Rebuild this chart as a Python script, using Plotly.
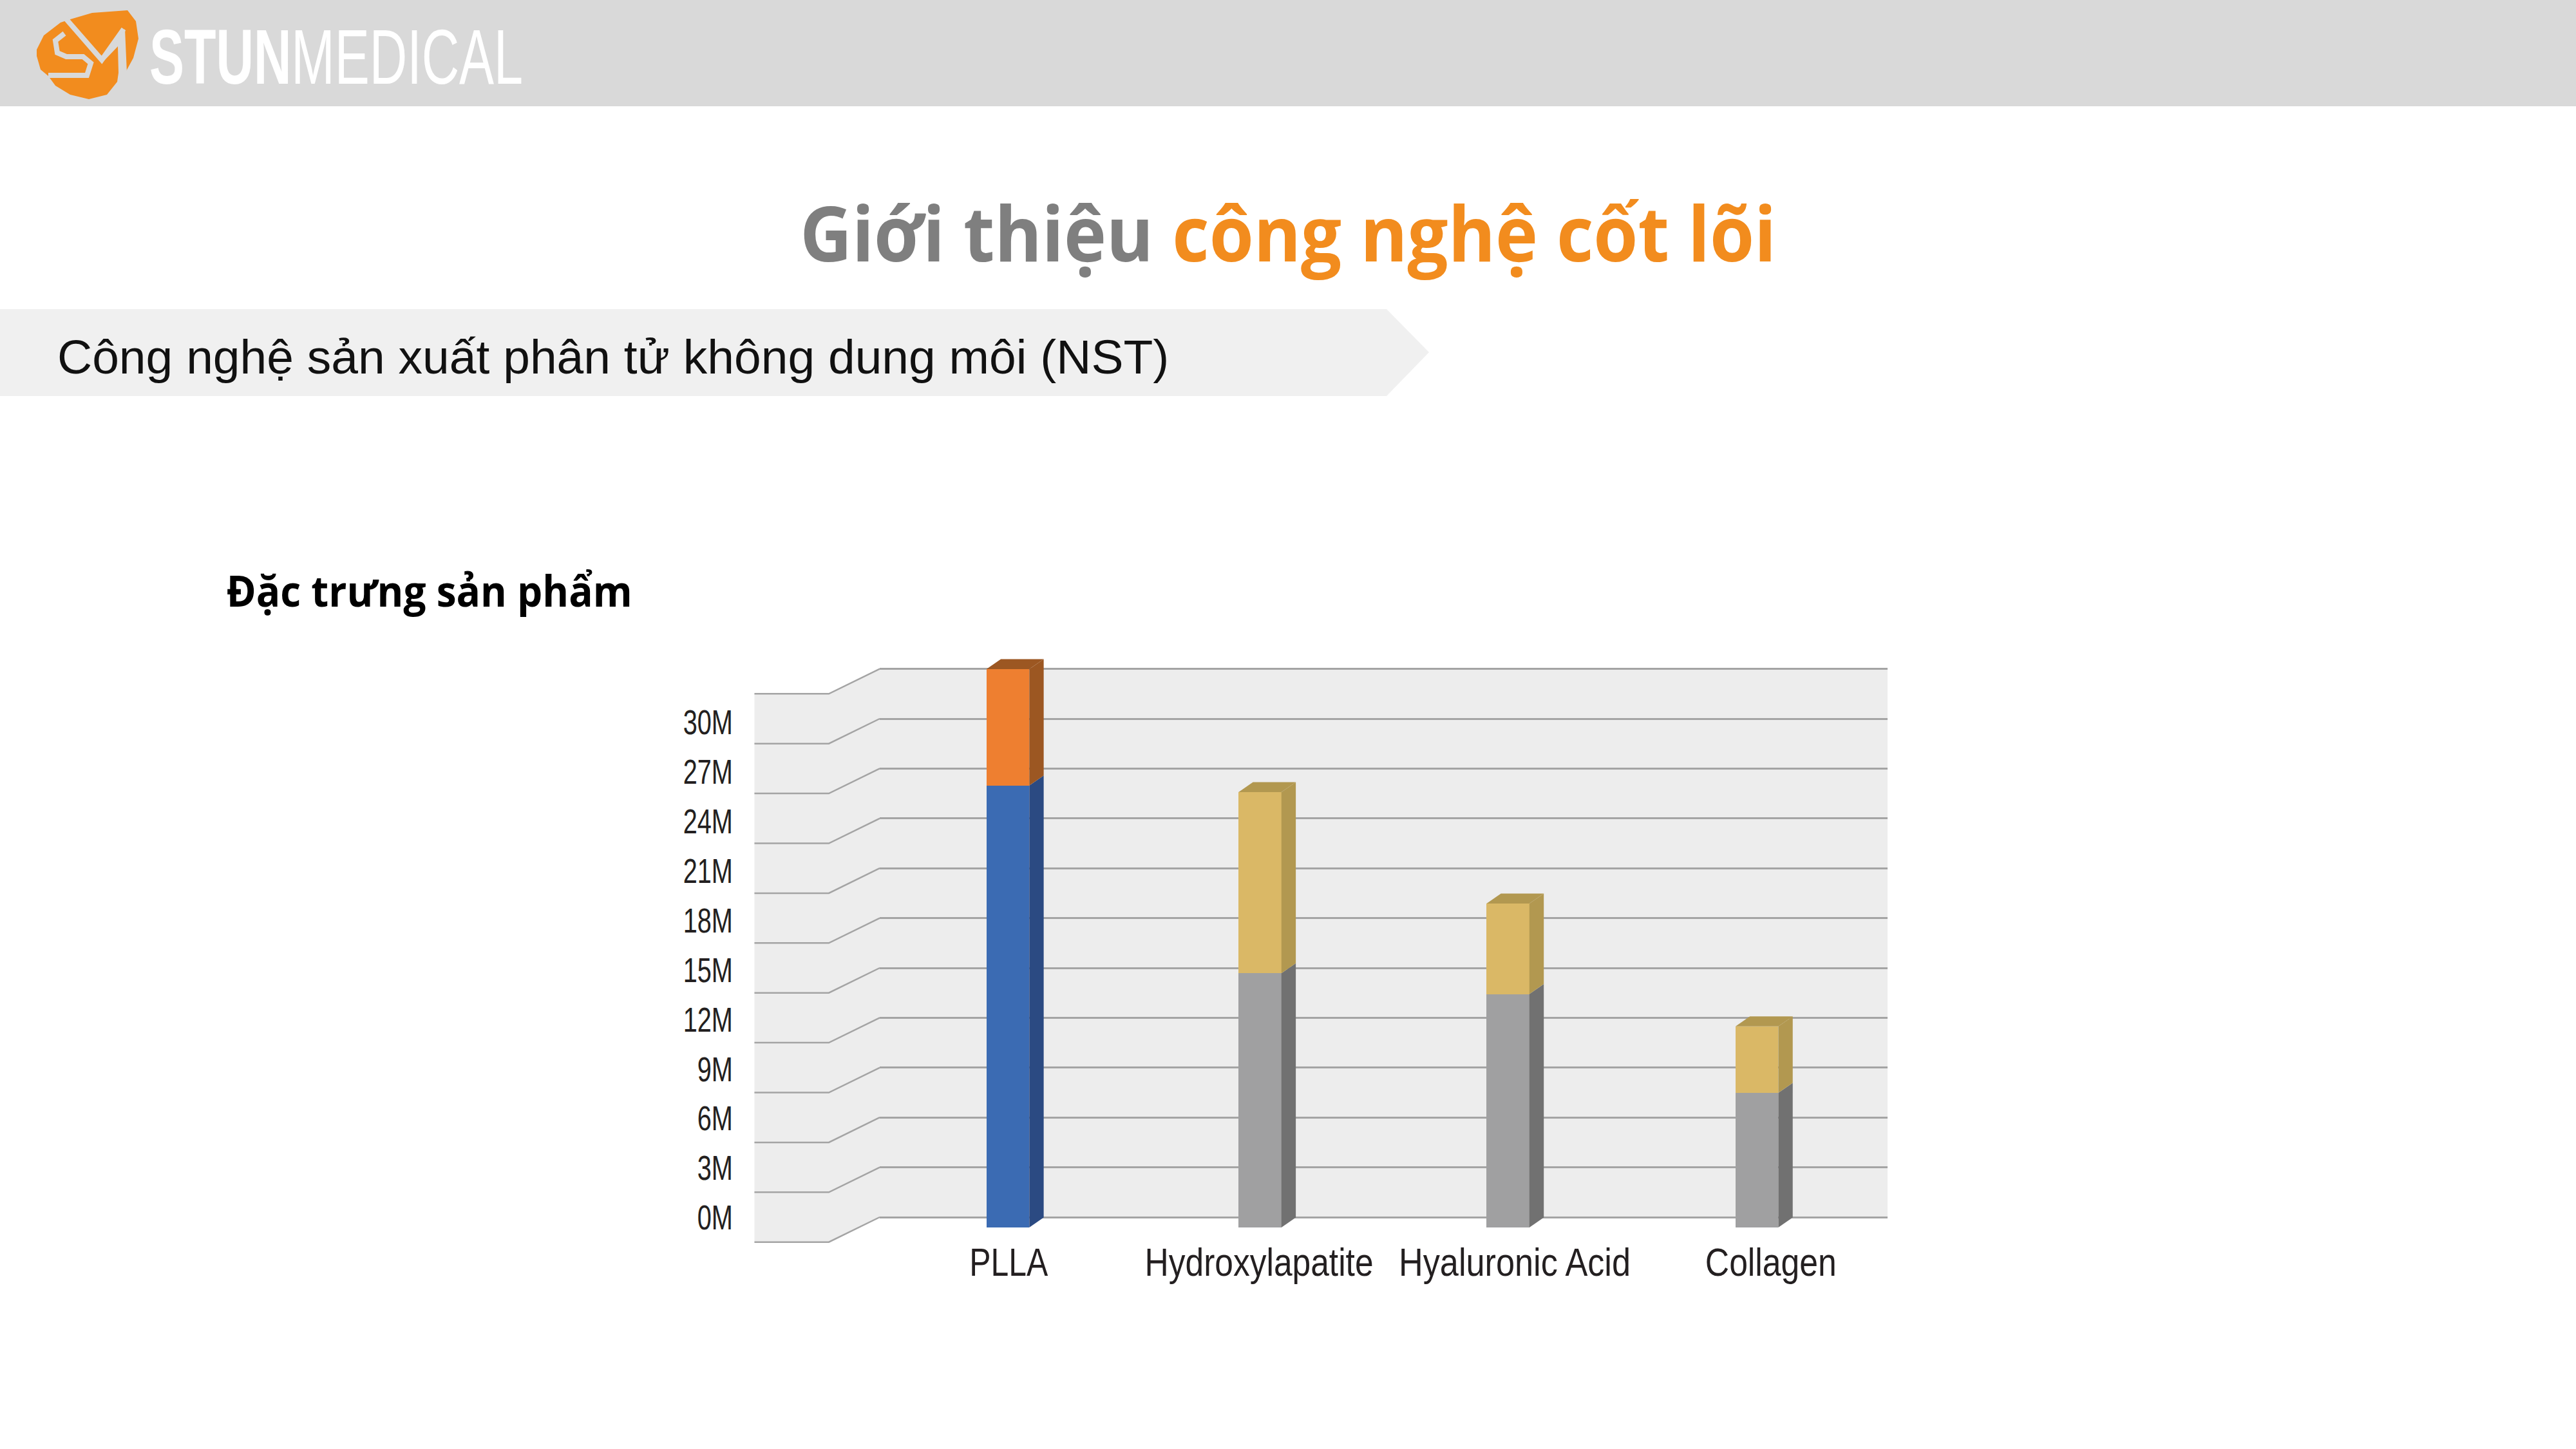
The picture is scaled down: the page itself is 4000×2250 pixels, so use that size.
import plotly.graph_objects as go

# ---------- data ----------
categories = ["PLLA", "Hydroxylapatite", "Hyaluronic Acid", "Collagen"]
lower_values = [26.6, 15.3, 14.05, 8.1]
upper_values = [7.0, 10.9, 5.45, 4.0]
lower_colors = ["#3b6bb3", "#a0a0a1", "#a0a0a1", "#a0a0a1"]
upper_colors = ["#ee7f30", "#dab866", "#dab866", "#dab866"]
lower_sides = ["#2b4a82", "#717171", "#717171", "#717171"]
upper_sides = ["#9c5722", "#b29850", "#b29850", "#b29850"]
grid_values = [0, 3, 6, 9, 12, 15, 18, 21, 24, 27, 30, 33]
tick_values = [0, 3, 6, 9, 12, 15, 18, 21, 24, 27, 30]
tick_labels = ["0M", "3M", "6M", "9M", "12M", "15M", "18M", "21M", "24M", "27M", "30M"]

# ---------- layout constants ----------
W, H = 4000, 2250
px = lambda v: v / W
py = lambda v: 1 - v / H
PX_PER_M = 25.8
PX_PER_SLOT = 387.7
FIRST_SLOT = 1565
bar_slots = [0, 1.0098, 2.003, 3.0]
label_slots = [0.003, 1.006, 2.03, 3.056]
BAR_W = 0.1715
DX = 22.4 / PX_PER_SLOT
DY = 15.5 / PX_PER_M
BASE_Y = 1906
WALL_Y = 1890
WALL_L, WALL_R = 1366, 2931
SIDE_L, SIDE_M = 1171.5, 1287
FRONT_DROP = 1.5
GRID = "#a4a4a4"
WALLC = "#ededed"
AXIS_FONT = dict(family="Liberation Sans", color="#231f20")

shapes = []
# header
shapes.append(dict(type="rect", xref="paper", yref="paper", x0=0, x1=1, y0=py(165), y1=1,
                   fillcolor="#d9d9d9", line_width=0, layer="below"))
# logo
pts = [(57,77),(68,55),(94,35),(109,30),(143,20),(198,16),(211,33),(215,60),(207,90),(195,112),
       (184,113),(182,127),(166,147),(138,154),(109,147),(86,133),(75,118),(63,108),(57,87)]
shapes.append(dict(type="path", xref="paper", yref="paper",
                   path="M " + " L ".join(f"{px(x):.5f} {py(y):.5f}" for x, y in pts) + " Z",
                   fillcolor="#f28c1e", line_width=0, layer="below"))
for stroke in ([(103,30),(158,93),(192,45)],
               [(100,52),(86,63),(89,82),(103,88),(129,88),(141,98),(135,117),(75,117)]):
    shapes.append(dict(type="path", xref="paper", yref="paper",
                       path="M " + " L ".join(f"{px(x):.5f} {py(y):.5f}" for x, y in stroke),
                       line=dict(color="#d9d9d9", width=8), layer="below"))
sliver = [(194,45),(197,113),(184,113),(183,72),(160,96)]
shapes.append(dict(type="path", xref="paper", yref="paper",
                   path="M " + " L ".join(f"{px(x):.5f} {py(y):.5f}" for x, y in sliver) + " Z",
                   fillcolor="#d9d9d9", line_width=0, layer="below"))
# ribbon
rib = [(0,480),(2153,480),(2219,547),(2153,615),(0,615)]
shapes.append(dict(type="path", xref="paper", yref="paper",
                   path="M " + " L ".join(f"{px(x):.5f} {py(y):.5f}" for x, y in rib) + " Z",
                   fillcolor="#f0f0f0", line_width=0, layer="below"))
# walls
top = grid_values[-1]
wall = [(SIDE_L, top-FRONT_DROP), (SIDE_M, top-FRONT_DROP), (WALL_L, top), (WALL_R, top),
        (WALL_R, 0), (WALL_L, 0), (SIDE_M, -FRONT_DROP), (SIDE_L, -FRONT_DROP)]
shapes.append(dict(type="path", xref="paper", yref="y",
                   path="M " + " L ".join(f"{px(x):.5f} {y:.4f}" for x, y in wall) + " Z",
                   fillcolor=WALLC, line_width=0, layer="below"))
for v in grid_values:
    line = [(SIDE_L, v-FRONT_DROP), (SIDE_M, v-FRONT_DROP), (WALL_L, v)]
    shapes.append(dict(type="path", xref="paper", yref="y",
                       path="M " + " L ".join(f"{px(x):.5f} {y:.4f}" for x, y in line),
                       line=dict(color=GRID, width=2.5), layer="below"))
# 3D faces of bars
def poly(p, color):
    return dict(type="path", xref="x2", yref="y2",
                path="M " + " L ".join(f"{x:.4f} {y:.4f}" for x, y in p) + " Z",
                fillcolor=color, line_width=0, layer="above")
for s, lo, up, sl, su in zip(bar_slots, lower_values, upper_values, lower_sides, upper_sides):
    l, r = s - BAR_W/2, s + BAR_W/2
    t = lo + up
    shapes.append(poly([(r,0),(r+DX,DY),(r+DX,lo+DY),(r,lo)], sl))
    shapes.append(poly([(r,lo),(r+DX,lo+DY),(r+DX,t+DY),(r,t)], su))
    shapes.append(poly([(l,t),(r,t),(r+DX,t+DY),(l+DX,t+DY)], su))

fig = go.Figure()
fig.add_bar(x=bar_slots, y=lower_values, width=BAR_W, marker=dict(color=lower_colors, line_width=0),
            xaxis="x2", yaxis="y2", name="Lower", hoverinfo="y")
fig.add_bar(x=bar_slots, y=upper_values, width=BAR_W, marker=dict(color=upper_colors, line_width=0),
            xaxis="x2", yaxis="y2", name="Upper", hoverinfo="y")

annotations = [
    dict(x=px(522), y=py(88), text="<b>STUN</b>MEDICAL", xanchor="center", yanchor="middle",
         font=dict(family="Liberation Sans", size=120, color="white")),
    dict(x=px(2000), y=py(360),
         text='<b><span style="color:#7f7f7f">Giới thiệu </span><span style="color:#f28c1e">công nghệ cốt lõi</span></b>',
         xanchor="center", yanchor="middle", font=dict(family="Open Sans", size=118)),
    dict(x=px(86.5), y=py(554), text="Công nghệ sản xuất phân tử không dung môi (NST)",
         xanchor="left", yanchor="middle", font=dict(family="Liberation Sans", size=75, color="#111111")),
    dict(x=px(666.5), y=py(916), text="<b>Đặc trưng sản phẩm</b>", xanchor="center", yanchor="middle",
         font=dict(family="Open Sans", size=66, color="#000000")),
]
for a in annotations:
    a.update(xref="paper", yref="paper", showarrow=False)

fig.update_layout(
    width=W, height=H, margin=dict(l=0, r=0, t=0, b=0), autosize=False,
    paper_bgcolor="white", plot_bgcolor="rgba(0,0,0,0)", showlegend=False, barmode="stack",
    shapes=shapes, annotations=annotations,
    xaxis=dict(domain=[px(WALL_L), px(WALL_R)], range=[0, 1], anchor="y", visible=False),
    yaxis=dict(domain=[0, 1], range=[-(H-WALL_Y)/PX_PER_M, WALL_Y/PX_PER_M], anchor="x",
               tickmode="array", tickvals=grid_values, showticklabels=False, ticks="",
               showgrid=True, gridcolor=GRID, gridwidth=2.5, zeroline=False, showline=False),
    xaxis2=dict(domain=[0, 1], range=[-FIRST_SLOT/PX_PER_SLOT, (W-FIRST_SLOT)/PX_PER_SLOT], anchor="y2",
                tickmode="array", tickvals=label_slots, ticktext=categories, ticks="", tickangle=0,
                tickfont=dict(size=62, **AXIS_FONT), showgrid=False, zeroline=False, showline=False,
                ticklabelstandoff=12),
    yaxis2=dict(domain=[py(BASE_Y), 1], range=[0, BASE_Y/PX_PER_M], anchor="x2", visible=False),
    yaxis3=dict(overlaying="y", anchor="free", position=px(1138), side="left",
                domain=[0, 1], range=[-(H-1890.7)/25.63, 1890.7/25.63],
                tickmode="array", tickvals=tick_values, ticktext=tick_labels, ticks="",
                tickfont=dict(size=53, **AXIS_FONT), showgrid=False, zeroline=False, showline=False),
)
fig.add_scatter(x=[None], y=[None], xaxis="x", yaxis="y3", showlegend=False, hoverinfo="skip")

# page margin off; the reference's narrow lettering is matched by condensing the real text
post = """
document.body.style.margin = '0';
var widths = {'STUNMEDICAL':580,'Giới thiệu công nghệ cốt lõi':1516,'Đặc trưng sản phẩm':630,
 'PLLA':122,'Hydroxylapatite':355,'Hyaluronic Acid':360,'Collagen':204};
document.querySelectorAll('.annotation-text, .xtick text, .x2tick text').forEach(function(t){
  var w = widths[t.textContent];
  if (w) { t.setAttribute('textLength', w); t.setAttribute('lengthAdjust','spacingAndGlyphs'); }
});
document.querySelectorAll('.y3tick text').forEach(function(t){
  t.setAttribute('textLength', t.getComputedTextLength()*0.75);
  t.setAttribute('lengthAdjust','spacingAndGlyphs');
});
"""
fig.write_html("out.html", post_script=post, config=dict(displayModeBar=False))
